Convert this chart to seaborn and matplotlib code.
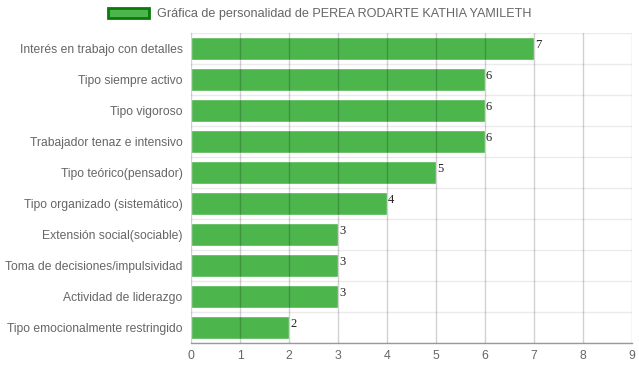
import numpy as np
import pandas as pd
import matplotlib
matplotlib.use("Agg")
import matplotlib.pyplot as plt
import seaborn as sns
from matplotlib.patches import Patch

# Data
categories = [
    'Interés en trabajo con detalles',
    'Tipo siempre activo',
    'Tipo vigoroso',
    'Trabajador tenaz e intensivo',
    'Tipo teórico(pensador)',
    'Tipo organizado (sistemático)',
    'Extensión social(sociable)',
    'Toma de decisiones/impulsividad',
    'Actividad de liderazgo',
    'Tipo emocionalmente restringido',
]
values = [7, 6, 6, 6, 5, 4, 3, 3, 3, 2]
x_ticks = list(range(0, 10))
legend_label = 'Gráfica de personalidad de PEREA RODARTE KATHIA YAMILETH'

df = pd.DataFrame({'categoria': categories, 'valor': values})

sns.set_theme(style='white')
plt.rcParams['font.family'] = ['Liberation Sans', 'DejaVu Sans']

fig = plt.figure(figsize=(6.39, 3.72), dpi=100)
ax = fig.add_axes([191 / 639, 1 - 343 / 372, 441 / 639, 310 / 372])

bar_color = '#4cb54c'
sns.barplot(data=df, x='valor', y='categoria', orient='h', color=bar_color,
            saturation=1, width=0.71, ax=ax, zorder=2)

ax.set_xlim(0, 9)
ax.set_ylim(len(categories) - 0.5, -0.5)
ax.set_xticks(x_ticks)
ax.set_xticklabels([str(t) for t in x_ticks], color='#666666', fontsize=8.8)
ax.set_yticks(range(len(categories)))
ax.set_yticklabels(categories, color='#666666', fontsize=8.7)
ax.set_xlabel('')
ax.set_ylabel('')

# vertical grid lines drawn over the bars
for t in x_ticks:
    ax.axvline(t, color='black', alpha=0.18, lw=1, zorder=3)
# horizontal band separators
for b in np.arange(-0.5, len(categories), 1.0):
    ax.axhline(b, color='#ebebeb', lw=1, zorder=1)

for s in ['top', 'right', 'left']:
    ax.spines[s].set_visible(False)
ax.spines['bottom'].set_color('#999999')
ax.spines['bottom'].set_linewidth(1)
ax.tick_params(axis='x', length=3, color='#cccccc', pad=2)
ax.tick_params(axis='y', length=0, pad=6)

# value labels
for i, v in enumerate(values):
    ax.text(v + 0.02, i - 0.12, str(v), fontsize=9, color='#222222',
            family='Liberation Serif', va='center', ha='left', zorder=4)

# legend
handle = Patch(facecolor=bar_color, edgecolor='#0a7a0a', linewidth=2)
fig.legend(handles=[handle], labels=[legend_label], loc='center',
           bbox_to_anchor=(0.5, 1 - 14 / 372), frameon=False, fontsize=9.1,
           handlelength=3.3, handleheight=0.9, handletextpad=0.6,
           labelcolor='#666666')

fig.savefig('out.png', dpi=100)
